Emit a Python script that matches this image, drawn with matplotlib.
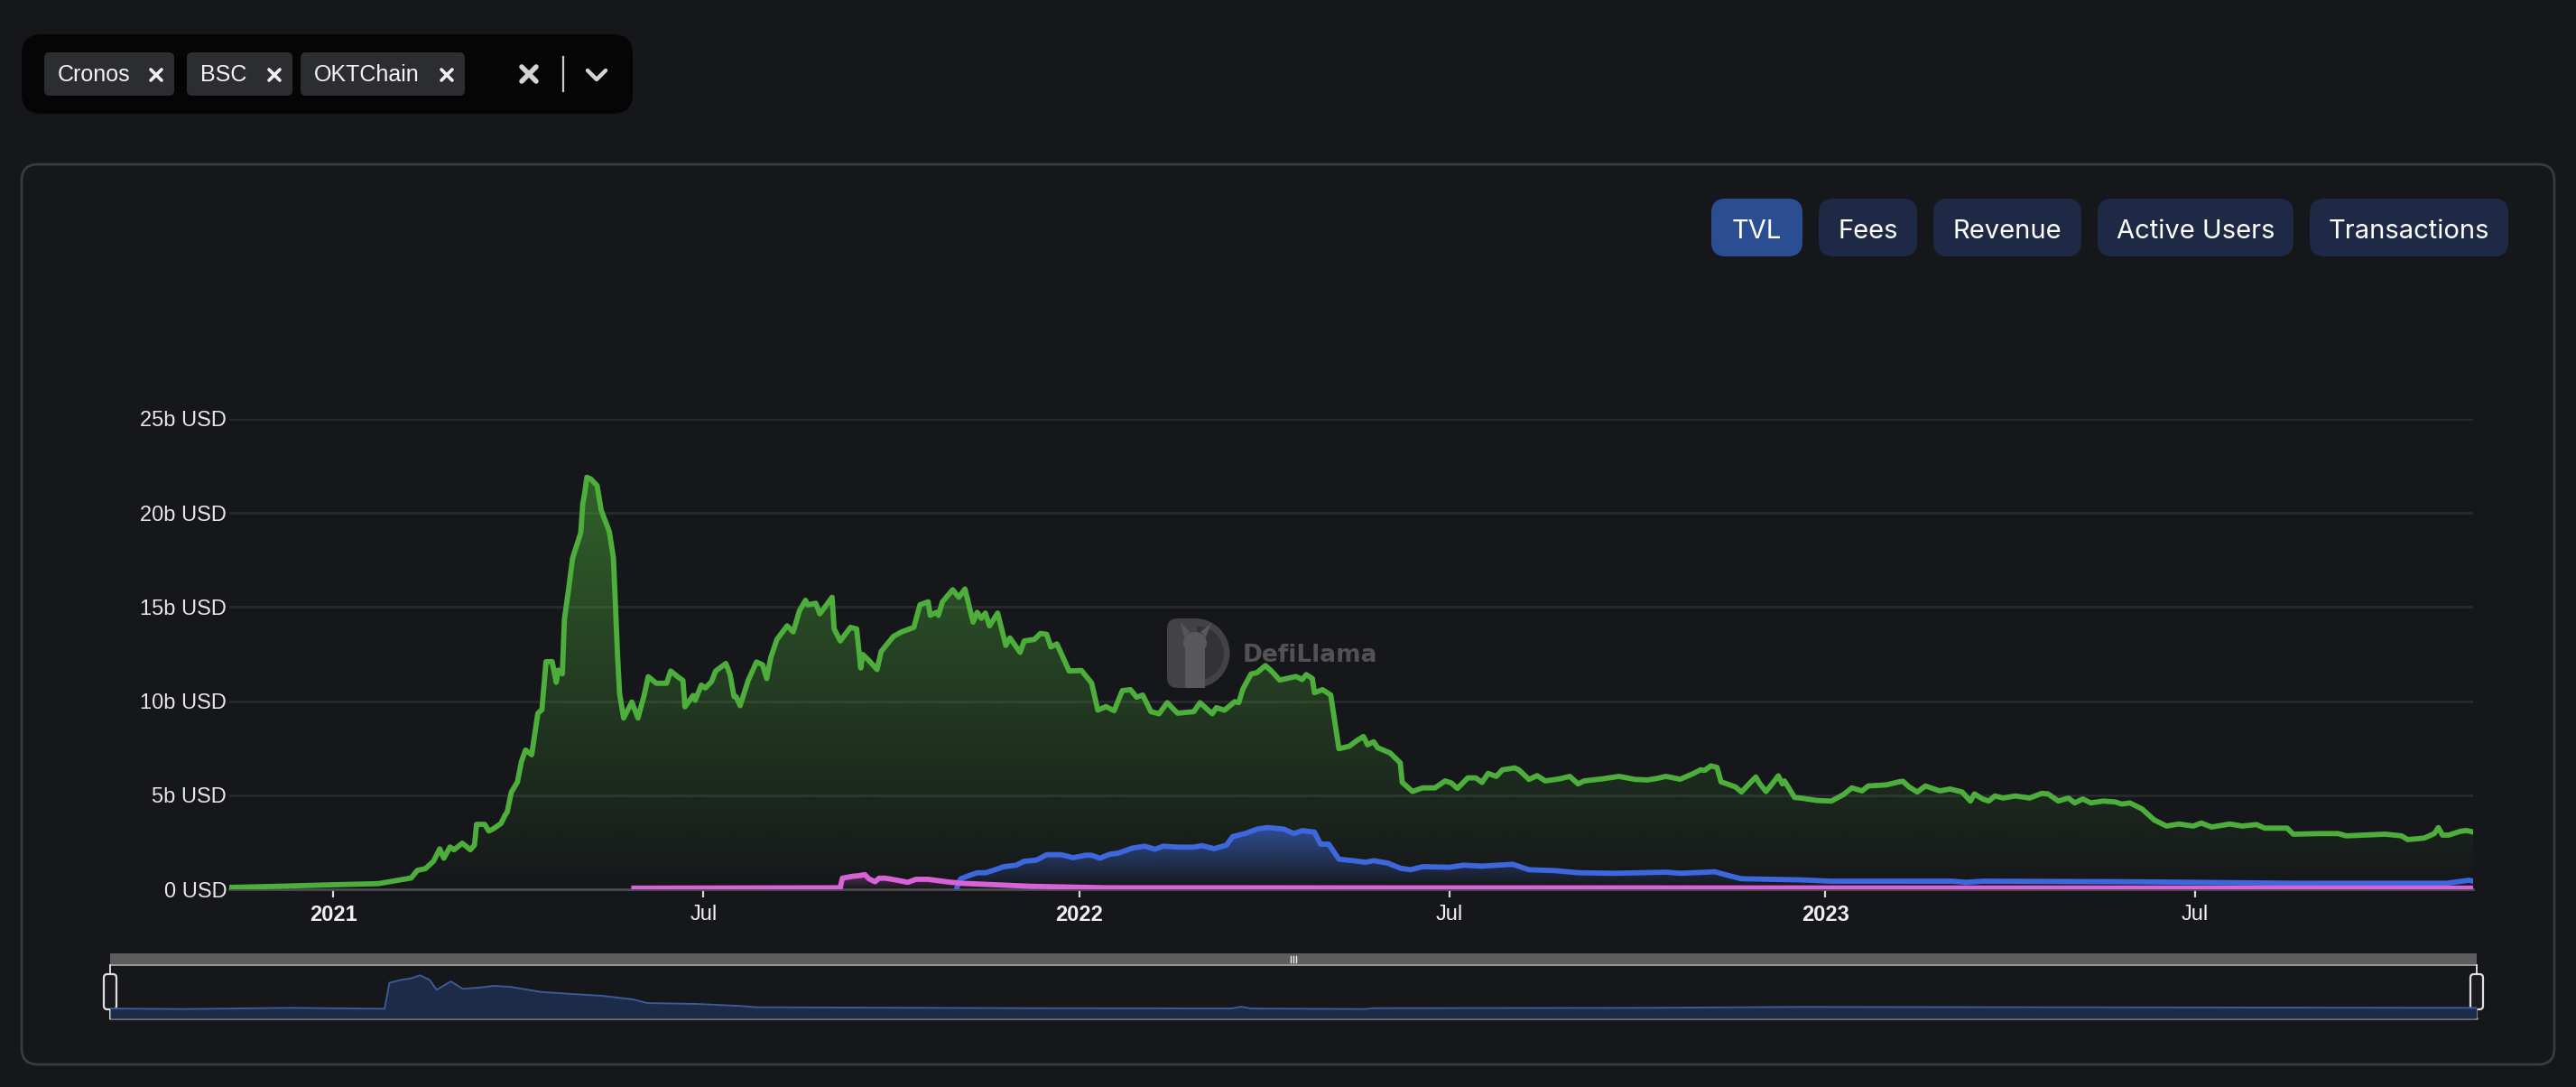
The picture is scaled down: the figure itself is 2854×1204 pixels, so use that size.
import numpy as np
import matplotlib
matplotlib.use('Agg')
import matplotlib.pyplot as plt
import matplotlib.dates as mdates
from matplotlib.patches import FancyBboxPatch, PathPatch, Wedge, Ellipse, Rectangle, Polygon
from matplotlib.colors import to_rgb

plt.rcParams['font.family'] = ['Liberation Sans', 'DejaVu Sans']

# ---- data (days since 2021-01-01, TVL in billions USD) ----
bsc_day = [-51, -30, 0, 22, 38, 41, 45, 49, 52, 54, 57, 59, 63, 67, 69, 70, 74, 76, 78, 82,
           84, 85, 87, 90, 92, 94, 97, 100, 102, 104, 107, 109, 110, 112, 113, 115, 117, 121, 122, 123,
           124, 126, 129, 131, 135, 137, 139, 140, 142, 146, 149, 152, 154, 158, 163, 165, 169, 171, 172, 176,
           177, 180, 182, 185, 187, 192, 194, 196, 197, 199, 203, 207, 210, 212, 214, 217, 222, 225, 228, 231,
           232, 236, 238, 244, 245, 248, 253, 256, 258, 259, 262, 266, 268, 274, 278, 284, 287, 291, 292, 295,
           296, 298, 303, 306, 309, 313, 315, 317, 319, 321, 325, 329, 331, 336, 338, 343, 346, 349, 351, 354,
           360, 366, 371, 374, 378, 382, 386, 390, 393, 396, 400, 404, 408, 413, 421, 424, 430, 432, 436, 441,
           443, 445, 449, 452, 456, 459, 463, 471, 474, 476, 479, 480, 484, 488, 490, 492, 497, 501, 504, 506,
           509, 511, 517, 522, 523, 528, 533, 539, 544, 547, 550, 555, 559, 562, 565, 569, 572, 578, 580, 585,
           589, 593, 600, 605, 609, 612, 621, 629, 637, 643, 648, 652, 659, 665, 669, 671, 674, 677, 679, 682,
           686, 689, 692, 696, 698, 701, 704, 707, 709, 710, 715, 718, 726, 733, 739, 743, 748, 751, 760, 766,
           768, 771, 775, 779, 786, 791, 797, 801, 803, 807, 810, 813, 817, 823, 830, 836, 839, 844, 849, 852,
           856, 860, 866, 872, 875, 879, 885, 891, 897, 903, 910, 914, 919, 928, 934, 941, 945, 956, 959, 972,
           981, 985, 1004, 1012, 1015, 1023, 1028, 1030, 1032, 1035, 1041, 1044, 1049]
bsc_tvl = [0.10, 0.15, 0.24, 0.30, 0.60, 1.00, 1.10, 1.50, 2.15, 1.65, 2.25, 2.10, 2.45, 2.10, 2.35, 3.45, 3.45, 3.10, 3.20, 3.50,
           3.95, 4.10, 5.15, 5.70, 6.80, 7.40, 7.15, 9.35, 9.55, 12.10, 12.10, 11.00, 11.65, 11.45, 14.35, 15.90, 17.60, 18.95, 20.50, 21.10,
           21.90, 21.80, 21.45, 20.15, 19.00, 17.60, 12.45, 10.40, 9.10, 9.95, 9.10, 10.30, 11.30, 10.95, 10.95, 11.60, 11.25, 11.10, 9.70, 10.30,
           10.05, 10.85, 10.70, 11.04, 11.60, 12.00, 11.44, 10.24, 10.24, 9.76, 11.12, 12.08, 11.93, 11.20, 12.32, 13.28, 14.00, 13.68, 14.80, 15.36,
           15.12, 15.20, 14.64, 15.52, 13.84, 13.20, 13.92, 13.84, 11.76, 12.48, 12.16, 11.68, 12.64, 13.44, 13.68, 13.92, 15.12, 15.28, 14.56, 14.72,
           14.56, 15.28, 15.92, 15.52, 15.96, 14.20, 14.72, 14.40, 14.68, 14.00, 14.68, 12.96, 13.36, 12.59, 13.20, 13.28, 13.60, 13.55, 12.88, 13.04,
           11.60, 11.63, 10.96, 9.52, 9.71, 9.49, 10.56, 10.61, 10.21, 10.32, 9.44, 9.33, 9.92, 9.36, 9.44, 9.92, 9.33, 9.65, 9.52, 9.97,
           9.92, 10.64, 11.44, 11.52, 11.89, 11.60, 11.12, 11.31, 11.15, 11.41, 11.20, 10.45, 10.61, 10.32, 8.88, 7.47, 7.60, 7.92, 8.12, 7.68,
           7.84, 7.52, 7.25, 6.72, 5.68, 5.20, 5.39, 5.39, 5.76, 5.65, 5.36, 5.92, 5.92, 5.68, 6.16, 6.00, 6.35, 6.45, 6.35, 5.84,
           6.04, 5.76, 5.87, 6.00, 5.60, 5.76, 5.87, 6.00, 5.84, 5.81, 5.90, 6.00, 5.85, 6.13, 6.35, 6.32, 6.56, 6.48, 5.71, 5.60,
           5.44, 5.17, 5.52, 5.97, 5.60, 5.20, 5.60, 6.03, 5.60, 5.76, 4.88, 4.85, 4.72, 4.69, 5.04, 5.39, 5.23, 5.49, 5.55, 5.71,
           5.74, 5.44, 5.17, 5.49, 5.23, 5.33, 5.17, 4.69, 5.07, 4.80, 4.69, 4.96, 4.85, 4.96, 4.85, 5.10, 5.07, 4.69, 4.85, 4.59,
           4.80, 4.59, 4.69, 4.64, 4.53, 4.59, 4.27, 3.68, 3.36, 3.47, 3.36, 3.52, 3.31, 3.47, 3.36, 3.44, 3.25, 3.25, 2.93, 2.96,
           2.96, 2.84, 2.93, 2.84, 2.64, 2.72, 2.96, 3.28, 2.88, 2.88, 3.09, 3.12, 2.99]

cronos_day = [305, 306, 307, 310, 315, 319, 323, 328, 334, 338, 344, 349, 356, 362, 368, 371, 375, 380, 384, 391,
              397, 402, 406, 413, 421, 425, 431, 437, 440, 446, 452, 457, 465, 470, 474, 480, 483, 487, 492, 499,
              505, 509, 516, 522, 527, 533, 546, 553, 562, 577, 585, 598, 609, 627, 652, 659, 676, 683, 689, 718,
              733, 792, 799, 807, 880, 961, 1034, 1045, 1049]
cronos_tvl = [0.05, 0.40, 0.56, 0.69, 0.88, 0.88, 1.01, 1.20, 1.28, 1.49, 1.55, 1.84, 1.84, 1.68, 1.81, 1.81, 1.65, 1.87, 1.92, 2.19,
              2.29, 2.13, 2.29, 2.24, 2.24, 2.32, 2.16, 2.35, 2.80, 2.96, 3.20, 3.28, 3.20, 2.96, 3.12, 3.04, 2.40, 2.40, 1.60, 1.52,
              1.44, 1.52, 1.39, 1.12, 1.04, 1.20, 1.17, 1.28, 1.23, 1.33, 1.04, 0.99, 0.88, 0.85, 0.91, 0.85, 0.93, 0.72, 0.56, 0.50,
              0.43, 0.43, 0.37, 0.43, 0.40, 0.32, 0.32, 0.48, 0.40]

okt_day = [147, 248, 249, 254, 257, 260, 262, 265, 267, 270, 276, 281, 285, 291, 300, 307, 341, 378, 1049]
okt_tvl = [0.06, 0.08, 0.59, 0.69, 0.72, 0.78, 0.56, 0.40, 0.59, 0.59, 0.48, 0.37, 0.53, 0.53, 0.40, 0.32, 0.16, 0.08, 0.06]

# overview strip under the chart (position 0..1, height 0..1)
brush_pos = [0, 0.031, 0.076, 0.116, 0.118, 0.123, 0.127, 0.131, 0.135, 0.138, 0.144, 0.149, 0.157, 0.162, 0.169,
             0.182, 0.195, 0.208, 0.221, 0.227, 0.248, 0.267, 0.273, 0.386, 0.474, 0.478, 0.482, 0.530, 0.534,
             0.649, 0.714, 1.0]
brush_val = [0.186, 0.175, 0.198, 0.181, 0.667, 0.723, 0.75, 0.808, 0.723, 0.537, 0.695, 0.554, 0.582, 0.61, 0.593,
             0.497, 0.458, 0.424, 0.356, 0.288, 0.271, 0.232, 0.209, 0.192, 0.186, 0.220, 0.186, 0.175, 0.192,
             0.198, 0.215, 0.198]

chains = ['Cronos', 'BSC', 'OKTChain']
tabs = ['TVL', 'Fees', 'Revenue', 'Active Users', 'Transactions']
y_ticks = [0, 5, 10, 15, 20, 25]
y_labels = ['0 USD', '5b USD', '10b USD', '15b USD', '20b USD', '25b USD']
x_ticks = ['2021-01-01', '2021-07-01', '2022-01-01', '2022-07-01', '2023-01-01', '2023-07-01']
x_labels = ['2021', 'Jul', '2022', 'Jul', '2023', 'Jul']

W, H = 2854, 1204
BG = '#16171a'
GREEN = '#4dae3b'
BLUE = '#3d67dd'
PINK = '#d862d8'


def to_x(days):
    d = np.datetime64('2021-01-01') + np.array(days).astype('timedelta64[D]')
    return mdates.date2num(d)


def fig_rect(x0, y0, x1, y1):
    return [x0 / W, 1 - y1 / H, (x1 - x0) / W, (y1 - y0) / H]


def rbox(ax, x0, y0, x1, y1, r, **kw):
    ax.add_patch(FancyBboxPatch((x0, y0), x1 - x0, y1 - y0,
                                boxstyle=f'round,pad=0,rounding_size={r}', **kw))


def grad_fill(ax, x, y, color, a_top):
    poly = ax.fill_between(x, y, 0, color='none', lw=0)
    clip = PathPatch(poly.get_paths()[0], transform=ax.transData, fc='none', ec='none')
    ax.add_patch(clip)
    img = np.zeros((256, 1, 4))
    img[..., :3] = to_rgb(color)
    img[..., 3] = np.linspace(0, a_top, 256)[:, None]
    im = ax.imshow(img, extent=[x.min(), x.max(), 0, max(y)], origin='lower',
                   aspect='auto', zorder=1, interpolation='bilinear')
    im.set_clip_path(clip)


fig = plt.figure(figsize=(W / 200, H / 200), dpi=200)
fig.patch.set_facecolor(BG)

# ---- page chrome ----
ui = fig.add_axes([0, 0, 1, 1])
ui.set_xlim(0, W)
ui.set_ylim(H, 0)
ui.axis('off')

rbox(ui, 24, 38, 701, 126, 22, fc='#050506', ec='none')
chip_x = [(49, 193), (207, 324), (333, 515)]
for name, (a, b) in zip(chains, chip_x):
    rbox(ui, a, 58, b, 106, 6, fc='#2c2d31', ec='none')
    ui.text(a + 15, 83, name, color='#f2f2f2', fontsize=9, va='center', ha='left')
    cx = b - 20
    ui.plot([cx - 6, cx + 6], [77, 89], color='#f2f2f2', lw=1.3, solid_capstyle='round')
    ui.plot([cx - 6, cx + 6], [89, 77], color='#f2f2f2', lw=1.3, solid_capstyle='round')
ui.plot([578, 594], [74, 90], color='#d4d4d4', lw=2.0, solid_capstyle='round')
ui.plot([578, 594], [90, 74], color='#d4d4d4', lw=2.0, solid_capstyle='round')
ui.plot([624, 624], [63, 101], color='#c8c8c8', lw=0.8)
ui.plot([651, 661, 671], [78, 88, 78], color='#d4d4d4', lw=1.6, solid_capstyle='round')

rbox(ui, 24, 182, 2830, 1179, 18, fc=BG, ec='#3a3b3f', lw=1.0)

tab_x = [(1896, 1997), (2015, 2124), (2142, 2306), (2324, 2541), (2559, 2779)]
for name, (a, b) in zip(tabs, tab_x):
    rbox(ui, a, 220, b, 284, 16, fc='#2b4e93' if name == 'TVL' else '#1e2a45', ec='none')
    ui.text((a + b) / 2, 256, name, color='#ffffff', fontsize=10.5, family='Inter',
            ha='center', va='center')

# watermark
rbox(ui, 1293, 685, 1335, 762, 12, fc='#434346', ec='none')
ui.add_patch(Wedge((1324, 723.5), 38.5, -90, 90, fc='#434346', ec='none'))
ui.add_patch(Wedge((1326, 723.5), 30, -90, 90, fc='#333336', ec='none'))
ui.add_patch(Rectangle((1313, 712), 22, 50, fc='#58585b', ec='none'))
ui.add_patch(Ellipse((1324, 712), 26, 24, fc='#58585b', ec='none'))
ui.add_patch(Polygon([[1312, 706], [1308, 690], [1318, 700]], fc='#58585b', ec='none'))
ui.add_patch(Polygon([[1336, 706], [1342, 690], [1330, 700]], fc='#58585b', ec='none'))
ui.text(1377, 726, 'DefiLlama', color='#525255', fontsize=9.5, fontweight='bold',
        family='DejaVu Sans', ha='left', va='center')

# ---- main chart ----
ax = fig.add_axes(fig_rect(254, 464, 2740, 985))
ax.set_facecolor('none')

xb, xc, xo = to_x(bsc_day), to_x(cronos_day), to_x(okt_day)
grad_fill(ax, xb, bsc_tvl, GREEN, 0.5)
grad_fill(ax, xc, cronos_tvl, BLUE, 0.62)
grad_fill(ax, xo, okt_tvl, PINK, 0.35)
ax.plot(xb, bsc_tvl, color=GREEN, lw=2.1, zorder=3, solid_joinstyle='round')
ax.plot(xc, cronos_tvl, color=BLUE, lw=2.1, zorder=4, solid_joinstyle='round')
ax.plot(xo, okt_tvl, color=PINK, lw=2.1, zorder=5, solid_joinstyle='round')

ax.set_xlim(mdates.date2num(np.datetime64('2020-11-11')), mdates.date2num(np.datetime64('2023-11-14')))
ax.set_ylim(0, 25)
ax.set_yticks(y_ticks, y_labels)
ax.set_xticks(mdates.date2num(np.array(x_ticks, dtype='datetime64[D]')), x_labels)
for lbl, t in zip(ax.get_xticklabels(), x_labels):
    if t != 'Jul':
        lbl.set_fontweight('bold')
ax.tick_params(axis='y', length=0, pad=1, labelsize=8.5, labelcolor='#e6e6e6')
ax.tick_params(axis='x', length=3.2, width=0.8, color='#d8d8d8', pad=3, labelsize=8.5,
               labelcolor='#f0f0f0')
ax.yaxis.grid(True, color='#2a2b2f', lw=0.9)
ax.set_axisbelow(True)
for s in ['top', 'right', 'left']:
    ax.spines[s].set_visible(False)
ax.spines['bottom'].set_color('#4b4c50')
ax.spines['bottom'].set_linewidth(1.0)

# ---- overview / zoom strip ----
ui.add_patch(Rectangle((122, 1056), 2622, 13, fc='#5d5d5e', ec='none'))
ui.plot([122, 2744], [1069, 1069], color='#9a9a9a', lw=0.7)
ui.plot([122, 2744], [1128, 1128], color='#8a8a8a', lw=0.9)
for gx in (1430, 1433, 1436):
    ui.plot([gx, gx], [1059, 1066], color='#eeeeee', lw=0.5)

sx = fig.add_axes(fig_rect(122, 1069, 2744, 1128))
sx.set_facecolor('none')
sx.fill_between(brush_pos, brush_val, 0, color='#1c2b48', lw=0)
sx.plot(brush_pos, brush_val, color='#3b5a96', lw=0.7)
sx.set_xlim(0, 1)
sx.set_ylim(0, 1)
sx.axis('off')

for hx in (122, 2744):
    ui.plot([hx, hx], [1069, 1128], color='#d8d8d8', lw=0.7, zorder=5)
    rbox(ui, hx - 7, 1079, hx + 7, 1118, 4, fc='#1a1b1e', ec='#e0e0e0', lw=0.8, zorder=6)

fig.savefig('out.png', dpi=200, facecolor=BG)
